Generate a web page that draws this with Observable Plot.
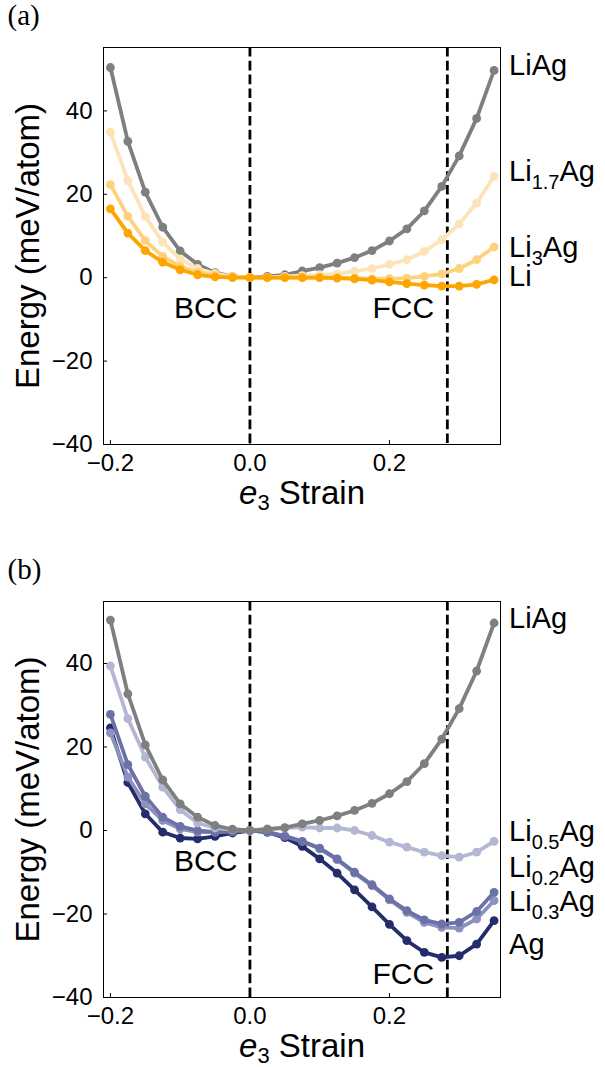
<!DOCTYPE html>
<html><head><meta charset="utf-8">
<script src="https://cdn.jsdelivr.net/npm/d3@7"></script>
<script src="https://cdn.jsdelivr.net/npm/@observablehq/plot@0.6"></script>
<style>
html,body{margin:0;padding:0;background:#fff;}
#chart{width:605px;}
#chart svg{display:block;}
</style></head><body><div id="chart"></div>
<script>
// ---------- data ----------
const strain = [-0.2,-0.175,-0.15,-0.125,-0.1,-0.075,-0.05,-0.025,0,0.025,0.05,0.075,0.1,0.125,0.15,0.175,0.2,0.225,0.25,0.275,0.3,0.325,0.35];

const eLiAg   = [50.4,32.7,20.5,12.1,6.4,3.2,1.2,0.3,0,0.3,0.7,1.6,2.4,3.5,4.8,6.5,8.8,11.7,16.0,21.9,29.2,38.2,49.7];
const eLi17Ag = [34.9,23.3,14.7,8.5,4.5,2.2,1.0,0.3,0,0.1,0.3,0.5,0.7,0.9,1.6,2.2,3.2,4.3,6.3,9.1,12.9,17.9,24.3];
const eLi3Ag  = [22.3,14.7,8.9,5.1,2.7,1.3,0.6,0.2,0,0,0,0,0,0,-0.1,-0.2,-0.2,-0.1,0.3,0.9,2.2,4.3,7.4];
const eLi     = [16.5,10.7,6.5,3.7,1.9,0.7,0.2,0,0,0,0,0,0,-0.1,-0.3,-0.6,-1.0,-1.4,-1.8,-2.0,-2.0,-1.6,-0.5];

const eLi05Ag = [39.4,26.8,17.6,10.4,5.0,1.8,0.6,0.2,0,0.4,0.6,0.8,0.6,0.6,0.0,-1.2,-2.8,-4.0,-5.2,-6.0,-6.4,-5.2,-2.6];
const eLi02Ag = [27.8,15.8,8.2,3.2,1.0,0.0,-0.4,-0.3,0,-0.4,-1.4,-2.6,-4.2,-6.8,-10.0,-13.0,-16.4,-19.2,-21.4,-22.4,-22.0,-19.4,-14.8];
const eLi03Ag = [23.4,12.8,6.4,2.4,0.4,-0.4,-0.4,-0.2,0,-0.4,-1.3,-2.6,-4.4,-7.0,-10.2,-13.2,-16.6,-19.6,-22.0,-23.2,-23.4,-21.2,-16.8];
const eAg     = [24.6,11.5,4.0,-0.4,-1.8,-2.0,-1.4,-0.6,0,-0.4,-1.7,-3.8,-6.8,-10.2,-14.2,-18.3,-22.5,-26.4,-29.2,-30.4,-30.0,-27.2,-21.6];

// panel (a)
const namesA  = ["LiAg","Li1.7Ag","Li3Ag","Li"];
const seriesA = [eLiAg,eLi17Ag,eLi3Ag,eLi];
const colorsA = ["#7f7f7f","#fde4b8","#fed17c","#ffa500"];
const labelYA = [50.8,25.3,7.3,0.3];
// panel (b)
const namesB  = ["Ag","Li0.3Ag","Li0.2Ag","Li0.5Ag","LiAg"];
const seriesB = [eAg,eLi03Ag,eLi02Ag,eLi05Ag,eLiAg];
const colorsB = ["#252c6c","#8d91be","#6c71a7","#b4b7d4","#7f7f7f"];
const labelYB = [-27.4,-17.0,-9.0,-0.2,50.7];

const phaseX = [0.0, 0.283];          // BCC, FCC reference strains
const phaseNames = ["BCC","FCC"];
const phaseLabelX = [-0.018, 0.264];
const phaseLabelYA = [-7.3,-7.3];
const phaseLabelYB = [-7.4,-34.4];

const yTicks = [-40,-20,0,20,40];
const xTicks = [-0.2,0.0,0.2];

// ---------- chart ----------
const W = 605, ML = 103, MR = 105;
const SANS = "'Liberation Sans', Arial, Helvetica, sans-serif";
const SERIF = "'Liberation Serif', 'Times New Roman', serif";

function panel({tag, height, marginTop, marginBottom, yDomain, names, series, colors, labelY, phaseLabelY}) {
  const plotW = W - ML - MR, plotH = height - marginTop - marginBottom;
  const marks = [];
  marks.push(Plot.ruleX(phaseX, {stroke:"black", strokeWidth:2.8, strokeDasharray:"9.6,4.2"}));
  names.forEach((n,i) => {
    const rows = strain.map((x,j) => ({x, y: series[i][j]}));
    marks.push(Plot.line(rows, {x:"x", y:"y", stroke: colors[i], strokeWidth:3.8}));
    marks.push(Plot.dot(rows, {x:"x", y:"y", r:4.4, fill: colors[i], stroke:"none"}));
  });
  marks.push(Plot.frame({stroke:"black", strokeWidth:1}));
  marks.push(Plot.tickY(yTicks, {y: d=>d, stroke:"black", insetRight: plotW-4}));
  marks.push(Plot.tickX(xTicks, {x: d=>d, stroke:"black", insetTop: plotH-4}));
  marks.push(Plot.axisY({ticks: yTicks, tickSize:0, tickPadding:11, tickFormat: d3.format("d"), label:null, fontSize:24}));
  marks.push(Plot.axisX({ticks: xTicks, tickSize:0, tickPadding:9, tickFormat: d3.format(".1f"), label:null, fontSize:24}));
  // axis titles
  marks.push(Plot.text(["e3 Strain"], {text:d=>d, frameAnchor:"bottom", lineAnchor:"middle", textAnchor:"middle", dy:49, fontSize:33, fill:"black"}));
  marks.push(Plot.text(["Energy (meV/atom)"], {text:d=>d, frameAnchor:"left", lineAnchor:"middle", textAnchor:"middle", dx:-75, rotate:-90, fontSize:33, fill:"black"}));
  // panel tag
  marks.push(Plot.text([tag], {text:d=>d, frameAnchor:"top-left", lineAnchor:"middle", textAnchor:"start", dx:-96, dy:-32, fontSize:29, fontFamily:SERIF, fill:"black"}));
  // phase labels
  marks.push(Plot.text(phaseNames, {x:(d,i)=>phaseLabelX[i], y:(d,i)=>phaseLabelY[i], text:d=>d, textAnchor:"end", fontSize:30, fill:"black"}));
  // series labels
  marks.push(Plot.text(names, {x:()=>strain[strain.length-1], y:(d,i)=>labelY[i], text:d=>d, dx:15, textAnchor:"start", fontSize:29, fill:"black"}));

  const svg = Plot.plot({
    width: W, height, marginLeft: ML, marginRight: MR, marginTop, marginBottom,
    style: {fontFamily: SANS, fontSize: "24px", color: "black", background: "white", overflow: "visible"},
    x: {domain: [-0.2099, 0.3592]},
    y: {domain: yDomain},
    marks
  });
  // rich text: subscripts and italic
  svg.querySelectorAll("text").forEach(t => {
    const s = t.textContent;
    const m = s.match(/^Li([\d.]+)Ag$/);
    const ns = "http://www.w3.org/2000/svg";
    const span = (txt, attrs={}) => { const e = document.createElementNS(ns,"tspan"); e.textContent = txt; for (const k in attrs) e.setAttribute(k, attrs[k]); t.appendChild(e); };
    if (m) {
      t.textContent = "";
      span("Li"); span(m[1], {"font-size":"20px", dy:"8"}); span("Ag", {dy:"-8"});
    } else if (s === "e3 Strain") {
      t.textContent = "";
      span("e", {"font-style":"italic"}); span("3", {"font-size":"22px", dy:"6"}); span(" Strain", {dy:"-6"});
    }
  });
  return svg;
}

const root = document.getElementById("chart");
root.appendChild(panel({tag:"(a)", height:553, marginTop:47, marginBottom:109, yDomain:[-40,55.2],
  names:namesA, series:seriesA, colors:colorsA, labelY:labelYA, phaseLabelY:phaseLabelYA}));
root.appendChild(panel({tag:"(b)", height:514, marginTop:48, marginBottom:70, yDomain:[-40,54.85],
  names:namesB, series:seriesB, colors:colorsB, labelY:labelYB, phaseLabelY:phaseLabelYB}));
</script></body></html>
